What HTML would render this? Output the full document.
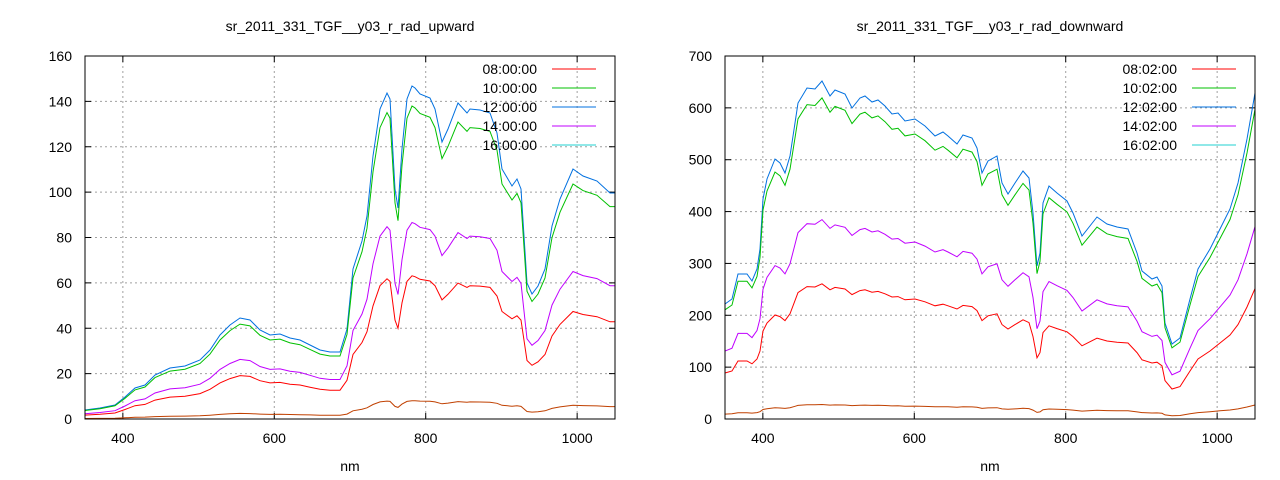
<!DOCTYPE html>
<html><head><meta charset="utf-8"><style>
html,body{margin:0;padding:0;background:#fff;}
svg{display:block;font-family:"Liberation Sans",sans-serif;}
</style></head><body>
<svg id="s" width="1280" height="480" xmlns="http://www.w3.org/2000/svg">
<rect width="1280" height="480" fill="#fff"/>
<text x="350" y="31" font-size="14" text-anchor="middle" fill="#000">sr_2011_331_TGF__y03_r_rad_upward</text>
<text x="990" y="31" font-size="14" text-anchor="middle" fill="#000">sr_2011_331_TGF__y03_r_rad_downward</text>
<text x="350" y="471" font-size="14" text-anchor="middle">nm</text>
<text x="990" y="471" font-size="14" text-anchor="middle">nm</text>
<g id="g"></g>
</svg>
<script>
var NS="http://www.w3.org/2000/svg",g=document.getElementById("g");
function el(t,a,txt){var e=document.createElementNS(NS,t);for(var k in a)e.setAttribute(k,a[k]);if(txt!==undefined)e.textContent=txt;g.appendChild(e);return e;}
function plot(x0,x1,y0,y1,ymax,ystep,base,ratios,labels){
  var colors=["#0070e0","#00c000","#c000ff","#ff0000","#c04000"];
  var yscale=(y1-y0)/ymax;
  for(var v=0;v<=ymax;v+=ystep){var y=y1-v*yscale;
    if(v>0&&v<ymax)el("line",{x1:x0,x2:x1,y1:y,y2:y,stroke:"#a0a0a0","stroke-dasharray":"2,3"});
    el("line",{x1:x0,x2:x0+6,y1:y,y2:y,stroke:"#000"});el("line",{x1:x1-6,x2:x1,y1:y,y2:y,stroke:"#000"});
    el("text",{x:x0-13,y:y+5,"font-size":14,"text-anchor":"end"},v);}
  var xs=(x1-x0)/700;
  for(var n=400;n<=1000;n+=200){var x=x0+(n-350)*xs;
    el("line",{x1:x,x2:x,y1:y0,y2:y1,stroke:"#a0a0a0","stroke-dasharray":"2,3"});
    el("line",{x1:x,x2:x,y1:y1-6,y2:y1,stroke:"#000"});el("line",{x1:x,x2:x,y1:y0,y2:y0+6,stroke:"#000"});
    el("text",{x:x,y:y1+24,"font-size":14,"text-anchor":"middle"},n);}
  for(var i=0;i<5;i++){var pts=[];
    for(var j=0;j<base.length;j+=2){var v=(y1-base[j+1])*ratios[i];pts.push(base[j]+","+(y1-v).toFixed(1));}
    el("polyline",{points:pts.join(" "),fill:"none",stroke:colors[i],"stroke-width":1});}
  el("rect",{x:x0,y:y0,width:x1-x0,height:y1-y0,fill:"none",stroke:"#000"});
  var lc=["#ff0000","#00c000","#0070e0","#c000ff","#20d0d0"];
  for(var i=0;i<5;i++){var y=69+i*19;
    el("text",{x:x1-78,y:y+5,"font-size":14,"text-anchor":"end"},labels[i]);
    el("line",{x1:x1-63,x2:x1-19,y1:y,y2:y,stroke:lc[i]});}
}
var L=[85,410,100,408,115,405,125,397,135,388,145,385,155,375,170,368,185,366,200,360,210,350,220,335,230,325,240,318,250,320,260,330,270,335,280,334,290,338,300,340,310,345,320,350,330,352,340,352,347,329,353,269,362,241,367,216,373,156,380,109,387,93,390,99,395,189,398,208,402,149,407,99,412,86,415,88,420,94,430,98,435,109,442,142,448,129,458,103,467,113,470,109,480,110,490,113,497,133,502,169,512,186,517,179,521,189,527,283,532,294,538,286,545,269,552,226,560,199,573,169,583,176,597,181,610,193,615,193];
var R=[725,304,732,299,738,274,747,274,752,281,757,269,760,249,763,199,767,179,775,159,780,163,785,173,790,156,795,123,798,103,807,88,815,89,822,81,830,96,835,90,845,94,852,108,860,98,865,96,872,102,878,100,885,106,892,114,898,113,905,121,915,119,925,126,935,136,943,132,948,136,957,144,963,135,972,138,977,148,982,173,988,161,997,156,1002,183,1008,194,1015,183,1023,171,1029,178,1033,213,1037,266,1040,253,1043,203,1049,186,1057,193,1067,201,1073,213,1082,236,1097,217,1107,224,1117,227,1128,229,1137,253,1142,271,1152,279,1157,277,1162,286,1165,323,1172,344,1180,338,1190,299,1198,269,1210,249,1220,229,1230,209,1238,183,1247,139,1255,93];
plot(85,615,56,419,160,20,L,[1,0.94,0.59,0.43,0.055],["08:00:00","10:00:00","12:00:00","14:00:00","16:00:00"]);
plot(725,1255,56,419,700,100,R,[1,0.95,0.59,0.40,0.043],["08:02:00","10:02:00","12:02:00","14:02:00","16:02:00"]);
</script>
</body></html>
